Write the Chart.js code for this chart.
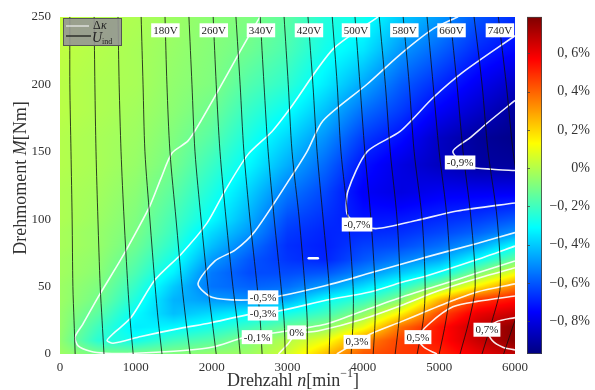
<!DOCTYPE html>
<html>
<head>
<meta charset="utf-8">
<script src="https://cdn.jsdelivr.net/npm/chart.js@4.4.1/dist/chart.umd.min.js"></script>
<style>
  html, body { margin: 0; padding: 0; background: #fff; }
  #wrap { width: 595px; height: 390px; }
</style>
</head>
<body>
<div id="wrap"><canvas id="kappaChart" width="595" height="390"></canvas></div>
<script>
/* Efficiency change map (Δκ) over speed/torque with induced-voltage isolines */

// ---- axes / ticks ----
const xTicks = [0, 1000, 2000, 3000, 4000, 5000, 6000];
const yTicks = [0, 50, 100, 150, 200, 250];
const cbTicks = [-0.8, -0.6, -0.4, -0.2, 0, 0.2, 0.4, 0.6];
const cbMin = -0.97;
const cbMax = 0.79;

// ---- Δκ field [%] (one inner array per speed column) ----
const gridN = [0, 500, 1000, 1500, 2000, 2500, 3000, 3500, 4000, 4500, 5000, 5500, 6000];
const gridM = [0, 10, 20, 30, 40, 50, 60, 70, 80, 90, 100, 120, 140, 160, 180, 200, 225, 250];
const kappaByN = [
  [-0.04, -0.06, -0.05, -0.05, -0.04, -0.04, -0.03, -0.03, -0.02, -0.02, -0.01, -0.01, 0.0, 0.0, 0.01, 0.01, 0.02, 0.03],
  [-0.10, -0.24, -0.20, -0.15, -0.11, -0.09, -0.07, -0.06, -0.05, -0.05, -0.04, -0.03, -0.02, -0.02, -0.01, -0.01, 0.0, 0.0],
  [-0.10, -0.28, -0.34, -0.31, -0.26, -0.22, -0.18, -0.15, -0.12, -0.10, -0.09, -0.07, -0.05, -0.04, -0.03, -0.02, -0.02, -0.01],
  [-0.08, -0.20, -0.32, -0.42, -0.44, -0.40, -0.33, -0.28, -0.24, -0.21, -0.19, -0.15, -0.11, -0.09, -0.07, -0.06, -0.05, -0.04],
  [-0.05, -0.16, -0.27, -0.37, -0.48, -0.55, -0.54, -0.48, -0.42, -0.37, -0.31, -0.26, -0.21, -0.16, -0.12, -0.09, -0.08, -0.07],
  [-0.04, -0.08, -0.20, -0.32, -0.50, -0.58, -0.62, -0.60, -0.55, -0.49, -0.45, -0.39, -0.32, -0.27, -0.22, -0.17, -0.12, -0.09],
  [0.05, 0.00, -0.13, -0.27, -0.45, -0.56, -0.62, -0.66, -0.67, -0.65, -0.62, -0.54, -0.45, -0.38, -0.30, -0.23, -0.18, -0.15],
  [0.24, 0.10, -0.07, -0.20, -0.30, -0.48, -0.60, -0.69, -0.70, -0.69, -0.67, -0.63, -0.57, -0.50, -0.42, -0.34, -0.28, -0.25],
  [0.42, 0.33, 0.10, -0.07, -0.22, -0.37, -0.51, -0.60, -0.64, -0.68, -0.72, -0.76, -0.72, -0.65, -0.56, -0.46, -0.35, -0.28],
  [0.47, 0.46, 0.38, 0.15, -0.08, -0.24, -0.40, -0.53, -0.62, -0.67, -0.71, -0.80, -0.80, -0.73, -0.65, -0.59, -0.49, -0.40],
  [0.50, 0.54, 0.54, 0.44, 0.25, -0.07, -0.30, -0.46, -0.56, -0.63, -0.68, -0.77, -0.86, -0.85, -0.76, -0.68, -0.58, -0.48],
  [0.60, 0.66, 0.67, 0.60, 0.48, 0.15, -0.10, -0.30, -0.47, -0.58, -0.65, -0.77, -0.91, -0.92, -0.84, -0.77, -0.68, -0.60],
  [0.68, 0.77, 0.77, 0.66, 0.55, 0.35, 0.10, -0.14, -0.30, -0.50, -0.60, -0.77, -0.92, -0.95, -0.92, -0.85, -0.74, -0.67]
];

// ---- Δκ contour lines, [n, M] ----
const cMinus09 = [[6000, 188], [5650, 172], [5400, 160], [5180, 150], [5400, 139], [5700, 137], [6000, 136]];
const cMinus07 = [[6000, 236], [5314, 209], [4919, 190], [4484, 165], [4049, 150], [3798, 121], [3785, 104], [3917, 96], [4180, 93], [4700, 99], [5235, 106], [6000, 112]];
const cMinus05 = [[5250, 250], [4919, 241], [4484, 222], [4049, 200], [3468, 173], [3257, 150], [3033, 130], [2571, 91], [2308, 77], [2044, 69], [1820, 52], [2004, 42], [2480, 40], [2900, 43], [3521, 51], [4088, 60], [4840, 72], [5500, 82], [6000, 90]];
const cMinus03 = [[4194, 250], [3600, 226], [3033, 182], [2796, 165], [2480, 148], [2176, 121], [1938, 97], [1596, 74], [1253, 55], [936, 27], [700, 15], [620, 10], [700, 8], [1068, 13], [1582, 19], [1978, 23], [2466, 29], [2900, 32], [3520, 40], [4088, 46], [4500, 53], [4840, 58], [5500, 70], [6000, 80]];
const cMinus01 = [[2637, 250], [2350, 222], [2084, 195], [1850, 172], [1688, 158], [1477, 149], [1330, 130], [1187, 110], [1000, 90], [791, 69], [501, 42], [300, 22], [198, 12.5], [240, 6], [400, 2], [600, 0.6], [1000, 0.6], [1500, 2], [2000, 5], [2420, 12], [2860, 16], [3500, 22], [4000, 32], [4500, 42], [5000, 51], [5500, 60], [6000, 69]];
const cZero = [[2880, 0], [3000, 7], [3120, 15], [3400, 17], [4000, 26], [4500, 36], [5000, 47], [5500, 56], [6000, 64]];
const cPlus03 = [[3650, 0], [3920, 9], [4100, 15], [4500, 24], [4800, 31], [5200, 40], [5500, 46], [6000, 52]];
const cPlus05 = [[4970, 0], [4800, 5], [4720, 12], [4880, 23], [5180, 35], [5500, 39], [6000, 43]];
const cPlus07 = [[6000, 27], [5760, 24], [5630, 18], [5700, 10], [5840, 5], [6000, 3]];
const cIsland = [[3280, 71], [3400, 71]];

const contourLabels = [
  ['-0,9%', 5276, 142], ['-0,7%', 3917, 96], ['-0,5%', 2678, 42], ['-0,3%', 2677, 30],
  ['-0,1%', 2598, 12.5], ['0%', 3120, 16], ['0,3%', 3917, 9], ['0,5%', 4720, 12.5], ['0,7%', 5630, 18]
];

// ---- induced voltage isolines: speed n at the torque levels voltM ----
const voltM = [250, 200, 150, 100, 50, 25, 0];
const voltages = [20, 60, 100, 140, 180, 220, 260, 300, 340, 380, 420, 460, 500, 540, 580, 620, 660, 700, 740];
const voltN = [
  [130, 130, 145, 160, 170, 185, 200],
  [450, 460, 475, 500, 530, 555, 580],
  [765, 780, 805, 845, 895, 925, 965],
  [1070, 1095, 1120, 1185, 1255, 1295, 1345],
  [1385, 1410, 1450, 1530, 1610, 1660, 1715],
  [1700, 1740, 1780, 1860, 1950, 2005, 2060],
  [2020, 2060, 2110, 2190, 2280, 2335, 2375],
  [2320, 2375, 2425, 2505, 2600, 2640, 2665],
  [2640, 2690, 2745, 2825, 2915, 2955, 2970],
  [2955, 3010, 3060, 3155, 3230, 3260, 3260],
  [3270, 3335, 3390, 3470, 3550, 3560, 3550],
  [3590, 3655, 3705, 3800, 3865, 3865, 3840],
  [3890, 3955, 4020, 4100, 4155, 4155, 4130],
  [4210, 4290, 4355, 4445, 4485, 4470, 4420],
  [4525, 4605, 4670, 4775, 4815, 4790, 4710],
  [4840, 4920, 5000, 5105, 5145, 5090, 5000],
  [5145, 5235, 5315, 5420, 5475, 5395, 5275],
  [5460, 5565, 5645, 5765, 5805, 5700, 5565],
  [5780, 5885, 5975, 6100, 6150, 6000, 5850]
];
const voltLabeled = [180, 260, 340, 420, 500, 580, 660, 740];

// ---------------------------------------------------------------------------
const SERIF = '"Liberation Serif", "DejaVu Serif", serif';
const TEXT_COLOR = '#333';

function jet(t) {
  const c = v => Math.max(0, Math.min(1, v));
  return [c(1.5 - Math.abs(4 * t - 3)), c(1.5 - Math.abs(4 * t - 2)), c(1.5 - Math.abs(4 * t - 1))];
}

function findCell(arr, v) {
  let i = 0;
  while (i < arr.length - 2 && v > arr[i + 1]) i++;
  const f = Math.max(0, Math.min(1, (v - arr[i]) / (arr[i + 1] - arr[i])));
  return [i, f];
}

function kappaAt(n, m) {
  const [i, fx] = findCell(gridN, n);
  const [j, fy] = findCell(gridM, m);
  const a = kappaByN[i][j], b = kappaByN[i + 1][j];
  const c = kappaByN[i][j + 1], d = kappaByN[i + 1][j + 1];
  return (a * (1 - fx) + b * fx) * (1 - fy) + (c * (1 - fx) + d * fx) * fy;
}

const heatmapPlugin = {
  id: 'heatmap',
  beforeDatasetsDraw(chart) {
    const { ctx, chartArea: a, scales: { x, y } } = chart;
    const w = Math.round(a.right - a.left), h = Math.round(a.bottom - a.top);
    const off = document.createElement('canvas');
    off.width = w; off.height = h;
    const octx = off.getContext('2d');
    const img = octx.createImageData(w, h);
    for (let py = 0; py < h; py++) {
      const m = y.getValueForPixel(a.top + py + 0.5);
      for (let px = 0; px < w; px++) {
        const n = x.getValueForPixel(a.left + px + 0.5);
        const t = (kappaAt(n, m) - cbMin) / (cbMax - cbMin);
        const [r, g, b] = jet(t);
        const k = (py * w + px) * 4;
        img.data[k] = r * 255; img.data[k + 1] = g * 255; img.data[k + 2] = b * 255; img.data[k + 3] = 255;
      }
    }
    octx.putImageData(img, 0, 0);
    ctx.drawImage(off, a.left, a.top);
  }
};

function labelBox(ctx, text, px, py, font) {
  ctx.font = font;
  const tw = ctx.measureText(text).width;
  ctx.fillStyle = '#fff';
  ctx.fillRect(px - tw / 2 - 2, py - 7, tw + 4, 14);
  ctx.fillStyle = '#222';
  ctx.textAlign = 'center';
  ctx.textBaseline = 'middle';
  ctx.fillText(text, px, py + 0.5);
}

const labelsPlugin = {
  id: 'labels',
  afterDatasetsDraw(chart) {
    const { ctx, scales: { x, y } } = chart;
    ctx.save();
    const f = '11px ' + SERIF;
    contourLabels.forEach(([t, n, m]) => labelBox(ctx, t, x.getPixelForValue(n), y.getPixelForValue(m), f));
    voltLabeled.forEach(v => {
      const row = voltN[voltages.indexOf(v)];
      const n = row[0] + (row[1] - row[0]) * 0.2;
      labelBox(ctx, v + 'V', x.getPixelForValue(n), y.getPixelForValue(240), f);
    });

    // legend box
    const lx = 63, ly = 18, lw = 58, lh = 27;
    ctx.fillStyle = 'rgba(150,150,150,0.9)';
    ctx.fillRect(lx, ly, lw, lh);
    ctx.strokeStyle = '#555';
    ctx.lineWidth = 1;
    ctx.strokeRect(lx + 0.5, ly + 0.5, lw, lh);
    ctx.strokeStyle = '#eee'; ctx.lineWidth = 1.2;
    ctx.beginPath(); ctx.moveTo(66, 26); ctx.lineTo(89, 26); ctx.stroke();
    ctx.strokeStyle = '#111'; ctx.lineWidth = 1.2;
    ctx.beginPath(); ctx.moveTo(66, 36); ctx.lineTo(91, 36); ctx.stroke();
    ctx.fillStyle = '#222';
    ctx.textAlign = 'left'; ctx.textBaseline = 'alphabetic';
    ctx.font = '12px ' + SERIF; ctx.fillText('Δ', 93, 29);
    ctx.font = 'italic 12px ' + SERIF; ctx.fillText('κ', 101, 29);
    ctx.font = 'italic 14px ' + SERIF; ctx.fillText('U', 92, 42);
    ctx.font = '8px ' + SERIF; ctx.fillText('ind', 102, 44);
    ctx.restore();
  }
};

function drawRich(ctx, parts, cx, cy) {
  let w = 0;
  parts.forEach(p => { ctx.font = p[1]; w += ctx.measureText(p[0]).width; });
  let x0 = cx - w / 2;
  parts.forEach(p => {
    ctx.font = p[1];
    ctx.fillText(p[0], x0, cy + (p[2] || 0));
    x0 += ctx.measureText(p[0]).width;
  });
}

const decorPlugin = {
  id: 'decor',
  afterDraw(chart) {
    const { ctx, chartArea: a, scales: { cb } } = chart;
    ctx.save();
    // colour bar
    const bx = a.right + 12, bw = 15;
    for (let py = Math.round(cb.top); py < Math.round(cb.bottom); py++) {
      const t = (cb.getValueForPixel(py + 0.5) - cbMin) / (cbMax - cbMin);
      const [r, g, b] = jet(t);
      ctx.fillStyle = `rgb(${r * 255 | 0},${g * 255 | 0},${b * 255 | 0})`;
      ctx.fillRect(bx, py, bw, 1);
    }
    ctx.strokeStyle = '#444'; ctx.lineWidth = 0.8;
    ctx.strokeRect(bx + 0.5, cb.top + 0.5, bw - 1, cb.bottom - cb.top - 1);
    cbTicks.forEach(v => {
      const py = Math.round(cb.getPixelForValue(v)) + 0.5;
      ctx.beginPath(); ctx.moveTo(bx, py); ctx.lineTo(bx + 3, py); ctx.stroke();
    });

    // axis titles
    ctx.fillStyle = TEXT_COLOR;
    ctx.textAlign = 'left';
    ctx.textBaseline = 'middle';
    const f = '18px ' + SERIF, fi = 'italic 18px ' + SERIF, fs = '12px ' + SERIF;
    drawRich(ctx, [['Drehzahl ', f], ['n', fi], ['[min', f], ['−1', fs, -7], [']', f]], 293, 381);
    ctx.translate(21, 178);
    ctx.rotate(-Math.PI / 2);
    drawRich(ctx, [['Drehmoment ', f], ['M', fi], ['[Nm]', f]], 0, 0);
    ctx.restore();
  }
};

const toPts = arr => arr.map(p => ({ x: p[0], y: p[1] }));

const datasets = [];
voltN.forEach(row => {
  datasets.push({
    data: row.map((n, i) => ({ x: n, y: voltM[i] })),
    borderColor: 'rgba(15,15,15,0.8)',
    borderWidth: 1,
    tension: 0.3
  });
});
[cMinus09, cMinus07, cMinus05, cMinus03, cMinus01, cZero, cPlus03, cPlus05, cPlus07].forEach(c => {
  datasets.push({
    data: toPts(c),
    borderColor: 'rgba(255,255,255,0.92)',
    borderWidth: 1.6,
    tension: 0.25
  });
});
datasets.push({ data: toPts(cIsland), borderColor: '#fff', borderWidth: 2.5, borderCapStyle: 'round', tension: 0 });

const tickFont = { family: SERIF, size: 13 };

new Chart(document.getElementById('kappaChart').getContext('2d'), {
  type: 'line',
  data: { datasets },
  options: {
    responsive: false,
    animation: false,
    devicePixelRatio: 1,
    events: [],
    layout: { padding: { top: 15, right: 5, left: 0, bottom: 0 } },
    elements: { point: { radius: 0 }, line: { fill: false } },
    scales: {
      x: {
        type: 'linear', min: 0, max: 6000,
        grid: { display: false, drawTicks: false }, border: { display: false },
        afterBuildTicks: s => { s.ticks = xTicks.map(v => ({ value: v })); },
        afterFit: s => { s.height = 36; },
        ticks: { font: tickFont, color: TEXT_COLOR, padding: 6, maxRotation: 0, autoSkip: false, callback: v => String(v) }
      },
      y: {
        type: 'linear', min: 0, max: 250,
        grid: { display: false, drawTicks: false }, border: { display: false },
        afterBuildTicks: s => { s.ticks = yTicks.map(v => ({ value: v })); },
        afterFit: s => { s.width = 60; },
        ticks: { font: tickFont, color: TEXT_COLOR, padding: 9, autoSkip: false, callback: v => String(v) }
      },
      cb: {
        type: 'linear', position: 'right', min: cbMin, max: cbMax,
        grid: { display: false, drawTicks: false }, border: { display: false },
        afterBuildTicks: s => { s.ticks = cbTicks.map(v => ({ value: v })); },
        afterFit: s => { s.width = 75; },
        ticks: {
          font: { family: SERIF, size: 14 }, color: TEXT_COLOR, crossAlign: 'far', autoSkip: false,
          callback: v => {
            if (Math.abs(v) < 1e-9) return '0%';
            return (v < 0 ? '−' : '') + '0, ' + Math.round(Math.abs(v) * 10) + '%';
          }
        }
      }
    },
    plugins: { legend: { display: false }, tooltip: { enabled: false } }
  },
  plugins: [heatmapPlugin, labelsPlugin, decorPlugin]
});
</script>
</body>
</html>
